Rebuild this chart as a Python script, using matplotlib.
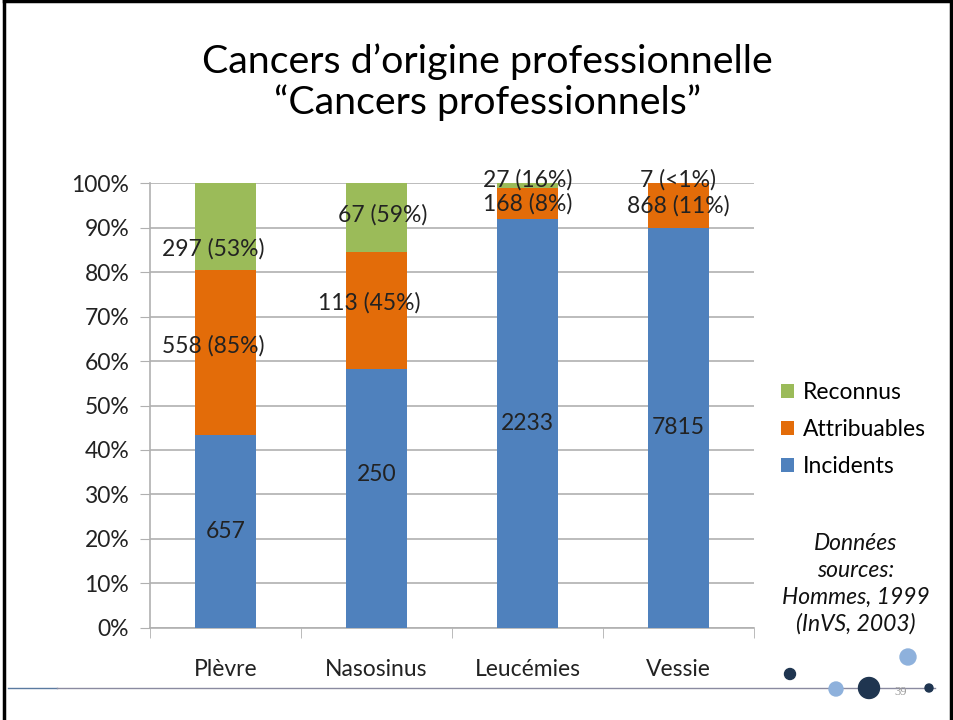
import numpy as np
import matplotlib
matplotlib.use("Agg")
import matplotlib.pyplot as plt
from matplotlib.patches import Circle
from matplotlib.lines import Line2D

plt.rcParams['font.family'] = ['Lato', 'DejaVu Sans']

# data
categories = ["Plèvre", "Nasosinus", "Leucémies", "Vessie"]
incidents = [657, 250, 2233, 7815]
attribuables = [558, 113, 168, 868]
reconnus = [297, 67, 27, 7]
attrib_pct = ["85%", "45%", "8%", "11%"]
reconnus_pct = ["53%", "59%", "16%", "<1%"]
yticks = [0, 10, 20, 30, 40, 50, 60, 70, 80, 90, 100]

blue = "#4F81BD"
orange = "#E36C09"
green = "#9BBB59"
fs = 16.5

tot = np.array(incidents) + np.array(attribuables) + np.array(reconnus)
inc_p = np.array(incidents) / tot * 100
att_p = np.array(attribuables) / tot * 100
rec_p = np.array(reconnus) / tot * 100

fig = plt.figure(figsize=(9.54, 7.2), dpi=100)
ax = fig.add_axes([0.1572, 0.1278, 0.633, 0.618])

x = np.arange(len(categories))
w = 0.4
ax.bar(x, inc_p, w, color=blue, label="Incidents", zorder=3)
ax.bar(x, att_p, w, bottom=inc_p, color=orange, label="Attribuables", zorder=3)
ax.bar(x, rec_p, w, bottom=inc_p + att_p, color=green, label="Reconnus", zorder=3)

ax.set_xlim(-0.5, len(categories) - 0.5)
ax.set_ylim(0, 100)
ax.set_yticks(yticks)
ax.set_yticklabels([f"{v}%" for v in yticks])
ax.yaxis.grid(True, color="#b0b0b0", linewidth=1.2, zorder=0)
ax.set_xticks(x)
ax.set_xticklabels(categories)
ax.set_xticks(np.arange(len(categories) + 1) - 0.5, minor=True)
ax.tick_params(axis="x", which="major", length=0, pad=22, labelsize=fs, colors="#222222")
ax.tick_params(axis="x", which="minor", length=7, color="#b0b0b0")
ax.tick_params(axis="y", length=7, color="#b0b0b0", labelsize=fs, labelcolor="#222222", pad=8)
for s in ["top", "right"]:
    ax.spines[s].set_visible(False)
ax.spines["left"].set_color("#b0b0b0")
ax.spines["bottom"].set_color("#b0b0b0")
ax.spines["left"].set_linewidth(1.2)
ax.spines["bottom"].set_linewidth(1.2)

# data labels (hand-placed in the original slide)
lbl = dict(fontsize=fs, color="#222222", ha="center", va="center", zorder=5)
inc_y = inc_p / 2 + np.array([0, 5.5, 0, 0])
att_y = inc_p + att_p / 2 + np.array([1.5, 1.7, 0, 0])
att_y[2] = 95.3
att_y[3] = 94.8
rec_y = inc_p + att_p + rec_p / 2 + np.array([-5, 0.6, 0, 0])
rec_y[2] = 100.7
rec_y[3] = 100.7
dx = [-0.08, -0.05, 0, 0]
for i in range(len(categories)):
    ax.text(x[i], inc_y[i], str(incidents[i]), **lbl)
    ax.text(x[i] + dx[i], att_y[i], f"{attribuables[i]} ({attrib_pct[i]})", **lbl)
    ax.text(x[i] + [-0.08, 0.04, 0, 0][i], rec_y[i], f"{reconnus[i]} ({reconnus_pct[i]})", **lbl)

h, l = ax.get_legend_handles_labels()
ax.legend(h[::-1], l[::-1], loc="upper left", bbox_to_anchor=(1.03, 0.574), frameon=False,
          fontsize=fs, handlelength=0.55, handleheight=0.55, handletextpad=0.4,
          labelspacing=0.7, borderaxespad=0)

# title
fig.text(0.511, 0.914, "Cancers d\u2019origine professionnelle", ha="center", va="center", fontsize=28.4)
fig.text(0.511, 0.857, "\u201cCancers professionnels\u201d", ha="center", va="center", fontsize=28.4)

# source note
fig.text(0.897, 0.189, "Données\nsources:\nHommes, 1999\n(InVS, 2003)", ha="center", va="center",
         fontsize=fs, style="italic", linespacing=1.33, color="#111111")

# slide decorations
fig.add_artist(Line2D([0.004, 0.004], [0, 0.998], color="black", lw=2.5, transform=fig.transFigure))
fig.add_artist(Line2D([0.004, 0.997], [0.998, 0.998], color="black", lw=2.5, transform=fig.transFigure))
fig.add_artist(Line2D([0.997, 0.997], [0, 0.998], color="black", lw=2.5, transform=fig.transFigure))
yl = 1 - 688 / 720
fig.add_artist(Line2D([0.008, 0.06], [yl, yl], color="#5a7aa0", lw=1, transform=fig.transFigure))
fig.add_artist(Line2D([0.06, 0.98], [yl, yl], color="#8a8aa0", lw=1, transform=fig.transFigure))
dots = [(790, 674, 5.5, "#1f3550"), (908, 657, 8, "#8eb1dc"), (836, 689, 7, "#8eb1dc"),
        (869, 688, 10.5, "#1f3550"), (929, 688, 4, "#1f3550")]
for cx, cy, r, c in dots:
    fig.add_artist(Circle((cx, 720 - cy), r, color=c, transform=None, zorder=10))
fig.text(901 / 954, 1 - 692 / 720, "39", ha="center", va="center", fontsize=9, color="#999999", family="Liberation Serif")

fig.savefig("out.png", dpi=100)
